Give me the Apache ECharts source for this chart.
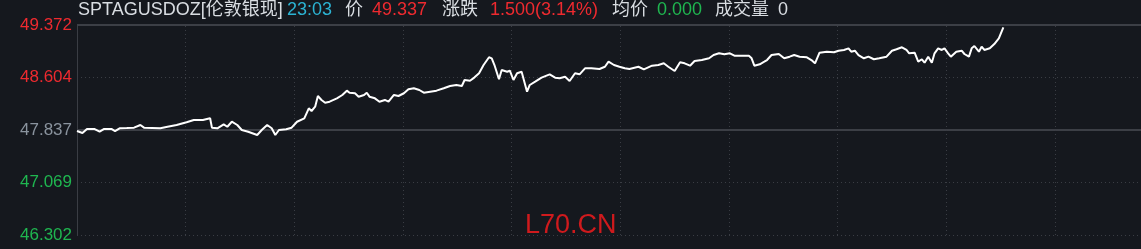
<!DOCTYPE html>
<html>
<head>
<meta charset="utf-8">
<style>
html,body{margin:0;padding:0;background:#15181e;}
#c{width:1141px;height:249px;}
</style>
<script src="https://cdn.jsdelivr.net/npm/echarts@6/dist/echarts.min.js"></script>
</head>
<body>
<div id="c"></div>
<script>
// minutes since 06:00 (session start)
const minutes = [0,6,11,19,25,30,38,42,47,55,63,70,74,92,100,110,121,129,139,147,149,155,162,166,171,177,182,189,199,204,210,215,219,223,231,237,243,251,256,259,263,266,270,274,279,287,293,298,301,307,311,317,320,323,329,334,340,344,350,355,361,366,372,378,383,390,397,405,412,419,425,428,434,439,444,449,455,458,461,466,469,475,478,482,486,491,497,500,506,513,522,528,533,539,544,550,555,561,568,577,583,587,593,599,605,610,620,626,635,642,648,653,660,666,671,677,682,690,698,703,709,715,721,726,734,742,745,748,754,759,762,767,775,781,787,792,798,806,811,815,820,828,836,841,847,852,855,859,863,869,874,880,886,894,900,905,911,916,919,925,929,933,936,940,944,947,951,955,958,962,965,971,977,980,985,988,991,996,999,1002,1008,1013,1018,1023];
const prices = [47.822,47.793,47.852,47.852,47.812,47.852,47.852,47.822,47.862,47.866,47.871,47.910,47.871,47.862,47.885,47.910,47.950,47.983,47.983,48.008,47.871,47.862,47.920,47.885,47.958,47.910,47.837,47.812,47.764,47.837,47.910,47.862,47.764,47.837,47.847,47.871,47.958,48.008,48.154,48.115,48.178,48.334,48.276,48.236,48.251,48.300,48.349,48.412,48.382,48.374,48.324,48.349,48.382,48.324,48.300,48.251,48.276,48.251,48.349,48.334,48.374,48.432,48.447,48.422,48.382,48.397,48.412,48.447,48.480,48.495,48.480,48.568,48.558,48.607,48.666,48.787,48.900,48.885,48.787,48.578,48.714,48.689,48.704,48.568,48.666,48.689,48.397,48.495,48.543,48.602,48.651,48.602,48.593,48.616,48.553,48.666,48.651,48.739,48.739,48.729,48.762,48.836,48.787,48.762,48.739,48.729,48.762,48.724,48.777,48.787,48.812,48.762,48.700,48.827,48.812,48.777,48.846,48.860,48.885,48.933,48.958,48.944,48.958,48.923,48.923,48.923,48.885,48.777,48.797,48.836,48.860,48.933,48.948,48.885,48.909,48.933,48.909,48.900,48.860,48.812,48.967,48.982,48.973,48.996,49.007,49.031,48.982,48.996,48.933,48.885,48.909,48.871,48.885,48.909,48.996,49.017,49.046,49.007,48.958,48.967,48.836,48.871,48.821,48.909,48.821,48.958,49.031,49.007,49.031,48.958,48.909,48.982,48.996,48.948,48.909,49.031,49.065,48.982,49.055,49.007,49.031,49.094,49.178,49.337];
const yTicks = [46.302, 47.069, 47.837, 48.604, 49.372];
const yTickStyle = ['g', 'g', 'n', 'r', 'r'];
const prevClose = 47.837;
// vertical gridlines every 2 hours (minutes since 06:00)
const xGridMinutes = [120, 240, 360, 480, 600, 720, 840, 960, 1080];
const xMax = 1175;
const header = [
  ['SPTAGUSDOZ[伦敦银现]', '#d9dde2'],
  ['23:03', '#2cb3d3'],
  ['价', '#d9dde2'],
  ['49.337', '#ee2a2f'],
  ['涨跌', '#d9dde2'],
  ['1.500(3.14%)', '#ee2a2f'],
  ['均价', '#d9dde2'],
  ['0.000', '#1fb650'],
  ['成交量', '#d9dde2'],
  ['0', '#d9dde2']
];
const headerX = [78, 287, 345, 372, 442, 490, 612, 657, 715, 778];

const chart = echarts.init(document.getElementById('c'), null, {renderer: 'canvas'});
const seriesData = minutes.map((m, i) => [m, prices[i]]);
const gridColor = '#3a3d44';
const graphics = header.map((h, i) => ({
  type: 'text', left: headerX[i], top: 1, silent: true,
  style: {text: h[0], fill: h[1], font: '18px "Liberation Sans", "Noto Sans CJK SC", sans-serif'}
}));
graphics.push({
  type: 'text', left: 525, top: 212, silent: true,
  style: {text: 'L70.CN', fill: '#cf1a1d', font: '27px "Liberation Sans", sans-serif'}
});
function tickIndex(v) {
  let best = 0;
  for (let i = 1; i < yTicks.length; i++) {
    if (Math.abs(yTicks[i] - v) < Math.abs(yTicks[best] - v)) best = i;
  }
  return best;
}
chart.setOption({
  backgroundColor: '#15181e',
  animation: false,
  grid: {left: 77, right: 0, top: 25, bottom: 14, containLabel: false},
  xAxis: {
    type: 'value', min: 0, max: xMax,
    axisLine: {show: false}, axisTick: {show: false}, axisLabel: {show: false},
    splitLine: {show: false}
  },
  yAxis: {
    type: 'value', min: yTicks[0], max: yTicks[4], interval: (yTicks[4] - yTicks[0]) / 4,
    axisLine: {show: true, lineStyle: {color: gridColor, width: 1}},
    axisTick: {show: false},
    splitLine: {show: true, lineStyle: {color: gridColor, width: 1, type: [1, 3]}},
    axisLabel: {
      margin: 5,
      formatter: (v) => { const i = tickIndex(v); return '{' + yTickStyle[i] + '|' + yTicks[i].toFixed(3) + '}'; },
      rich: {
        r: {color: '#ee2a2f', fontSize: 17, fontFamily: 'Liberation Sans'},
        g: {color: '#1fb650', fontSize: 17, fontFamily: 'Liberation Sans'},
        n: {color: '#8a939e', fontSize: 17, fontFamily: 'Liberation Sans'}
      }
    }
  },
  graphic: graphics,
  series: [{
    type: 'line', data: seriesData, showSymbol: false, z: 5,
    lineStyle: {color: '#ffffff', width: 2}, clip: true,
    markLine: {
      silent: true, symbol: 'none', label: {show: false},
      lineStyle: {color: '#3c3f46', width: 2, type: 'solid'},
      data: [{yAxis: yTicks[4]}, {yAxis: prevClose}, {yAxis: yTicks[0]}].concat(
        xGridMinutes.map(m => ({xAxis: m, lineStyle: {color: gridColor, width: 1, type: [1, 3]}})))
    }
  }]
});
</script>
</body>
</html>
